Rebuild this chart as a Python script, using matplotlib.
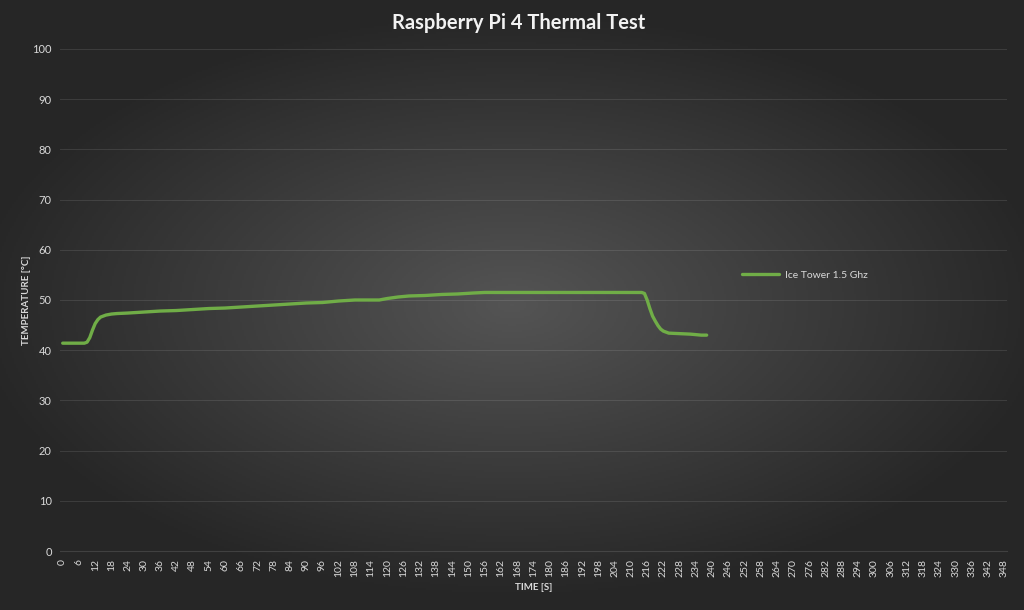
import numpy as np
import matplotlib
matplotlib.use("Agg")
import matplotlib.pyplot as plt

# Values (time in seconds, temperature in °C)
times = [0, 4, 8, 9, 10, 11, 12, 13, 14, 16, 18, 20, 24, 30, 36, 42, 48, 54, 60,
         66, 72, 78, 84, 90, 96, 102, 108, 114, 117, 120, 124, 128, 134, 140, 146,
         152, 156, 170, 190, 214, 215, 216, 217, 218, 219, 220, 221, 222, 224,
         228, 232, 236, 238]
temps = [41.4, 41.4, 41.4, 41.6, 42.5, 44.0, 45.3, 46.1, 46.6, 47.0, 47.2, 47.3,
         47.4, 47.6, 47.8, 47.9, 48.1, 48.3, 48.4, 48.6, 48.8, 49.0, 49.2, 49.4,
         49.5, 49.8, 50.0, 50.0, 50.0, 50.3, 50.6, 50.8, 50.9, 51.1, 51.2, 51.4,
         51.5, 51.5, 51.5, 51.5, 51.3, 50.0, 48.3, 46.8, 45.8, 44.9, 44.2, 43.8,
         43.4, 43.3, 43.2, 43.0, 43.0]
series_name = "Ice Tower 1.5 Ghz"
x_ticks = list(range(0, 349, 6))
y_ticks = list(range(0, 101, 10))

plt.rcParams["font.family"] = ["Lato", "DejaVu Sans"]

fig = plt.figure(figsize=(10.24, 6.10), dpi=100)

# radial background gradient
bg = fig.add_axes([0, 0, 1, 1])
gx, gy = np.meshgrid(np.linspace(-1, 1, 512), np.linspace(-1, 1, 305))
r = np.sqrt(gx ** 2 + (gy * 1.1) ** 2)
shade = np.clip(0.33 - 0.17 * r, 0.15, 0.33)
bg.imshow(np.dstack([shade] * 3), aspect="auto", extent=[0, 1, 0, 1])
bg.axis("off")

ax = fig.add_axes([0.0586, 0.0967, 0.9248, 0.823])
ax.patch.set_alpha(0)
ax.plot(times, temps, color="#70ad47", lw=2.4, solid_capstyle="round",
        solid_joinstyle="round", label=series_name)

ax.set_xlim(-1, 349)
ax.set_ylim(0, 100)
ax.set_xticks(x_ticks)
ax.set_xticklabels([str(t) for t in x_ticks], rotation=90, fontsize=7.5, color="#d9d9d9")
ax.set_yticks(y_ticks)
ax.set_yticklabels([str(t) for t in y_ticks], fontsize=8, color="#d9d9d9")
ax.tick_params(length=0, pad=6)
ax.grid(axis="y", color="white", alpha=0.1, lw=0.8)
ax.set_axisbelow(True)
for s in ["top", "right", "left"]:
    ax.spines[s].set_visible(False)
ax.spines["bottom"].set_color((1, 1, 1, 0.12))

ax.set_xlabel("TIME [S]", fontsize=7, fontweight="bold", color="#d9d9d9", labelpad=4)
ax.set_ylabel("TEMPERATURE [°C]", fontsize=7, fontweight="bold", color="#d9d9d9", labelpad=1)

fig.text(0.506, 0.963, "Raspberry Pi 4 Thermal Test", ha="center", va="center",
         fontsize=14.5, fontweight="bold", color="#f2f2f2")

ax.legend(loc="center left", bbox_to_anchor=(0.71, 0.55), frameon=False,
          fontsize=7.5, labelcolor="#d9d9d9", handlelength=3.6, handletextpad=0.6)

fig.savefig("out.png", dpi=100)
